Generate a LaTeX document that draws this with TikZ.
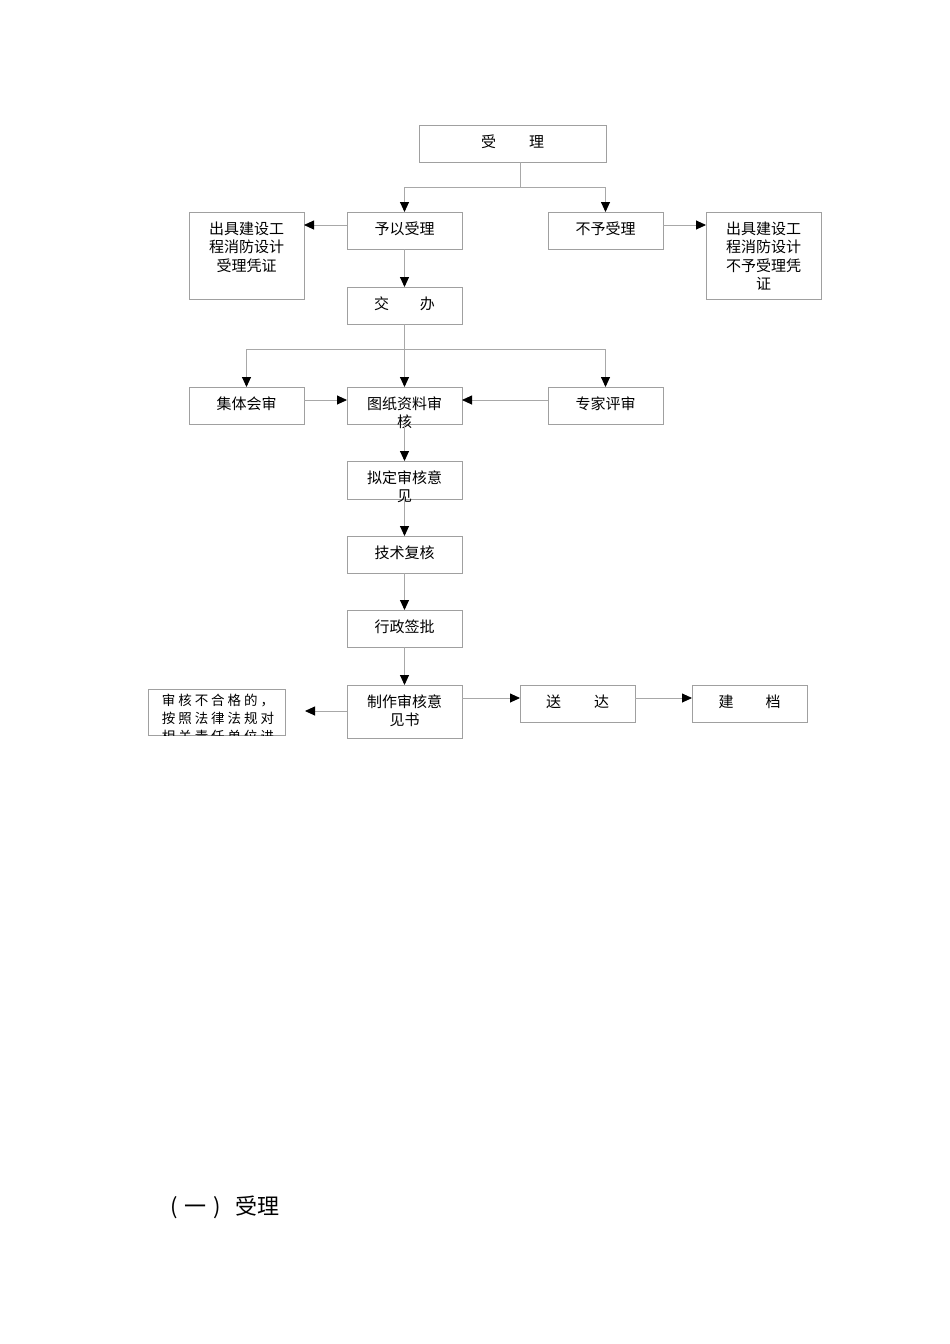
\documentclass[tikz,border=0pt]{standalone}
\usepackage{fontspec}
\setmainfont{Noto Sans CJK SC}
\newfontfamily\cjk{Noto Sans CJK SC}
\newfontfamily\cjkspaced[LetterSpace=22]{Noto Sans CJK SC}
\usetikzlibrary{arrows.meta}
\definecolor{linegray}{HTML}{A8A8A8}
\definecolor{boxgray}{HTML}{A0A0A0}
\tikzset{
  box/.style={draw=boxgray, line width=0.9pt, minimum width=115pt, minimum height=37pt, inner sep=0pt, outer sep=0pt},
  txt/.style={anchor=north, inner sep=0pt, align=center, font=\cjk\fontsize{15}{18.5}\selectfont},
  conn/.style={draw=linegray, line width=0.9pt},
  arr/.style={conn, -{Triangle[length=10pt,width=9pt,fill=black,color=black]}}
}
\begin{document}
\begin{tikzpicture}[x=1pt,y=-1pt]
\useasboundingbox (0,0) rectangle (950,1344);
\fill[white] (0,0) rectangle (950,1344);

% boxes
\node[box, minimum width=187pt] (shouli) at (512.5,143.5) {};
\node[box] (yiyi) at (404.5,230.5) {};
\node[box] (buyu) at (605.5,230.5) {};
\node[box, minimum height=87pt] (lcert) at (246.5,255.5) {};
\node[box, minimum height=87pt] (rcert) at (763.5,255.5) {};
\node[box] (jiaoban) at (404.5,305.5) {};
\node[box] (jiti) at (246.5,405.5) {};
\node[box] (tuzhi) at (404.5,405.5) {};
\node[box] (zhuanjia) at (605.5,405.5) {};
\node[box, minimum height=38pt] (niding) at (404.5,480) {};
\node[box] (jishu) at (404.5,554.5) {};
\node[box] (xingzheng) at (404.5,628.5) {};
\node[box, minimum height=53pt] (zhizuo) at (404.5,711.5) {};
\node[box] (songda) at (577.5,703.5) {};
\node[box] (jiandang) at (749.5,703.5) {};
\node[box, minimum width=137pt, minimum height=46pt] (buhege) at (216.5,712) {};

% texts
\node[txt] at ([yshift=-9.5pt]shouli.north) {受\hspace{33pt}理};
\node[txt] at ([yshift=-9.5pt]yiyi.north) {予以受理};
\node[txt] at ([yshift=-9.5pt]buyu.north) {不予受理};
\node[txt] at ([yshift=-9.5pt]lcert.north) {出具建设工\\程消防设计\\受理凭证};
\node[txt] at ([yshift=-9.5pt]rcert.north) {出具建设工\\程消防设计\\不予受理凭\\证};
\node[txt] at ([yshift=-9.5pt]jiaoban.north) {交\hspace{31pt}办};
\node[txt] at ([yshift=-9.5pt]jiti.north) {集体会审};
\node[txt] at ([yshift=-9.5pt]tuzhi.north) {图纸资料审\\核};
\node[txt] at ([yshift=-9.5pt]zhuanjia.north) {专家评审};
\node[txt] at ([yshift=-9.5pt]niding.north) {拟定审核意\\见};
\node[txt] at ([yshift=-9.5pt]jishu.north) {技术复核};
\node[txt] at ([yshift=-9.5pt]xingzheng.north) {行政签批};
\node[txt] at ([yshift=-9.5pt]zhizuo.north) {制作审核意\\见书};
\node[txt] at ([yshift=-9.5pt]songda.north) {送\hspace{33pt}达};
\node[txt] at ([yshift=-9.5pt]jiandang.north) {建\hspace{32pt}档};
\begin{scope}
  \clip (buhege.north west) rectangle (buhege.south east);
  \node[txt, font=\cjkspaced\fontsize{13.5}{18}\selectfont] at ([xshift=1.5pt,yshift=-5pt]buhege.north) {审核不合格的，\\按照法律法规对\\相关责任单位进};
\end{scope}

% connectors
\coordinate (j1) at (520,187);
\draw[conn] (shouli.south -| j1) -- (j1);
\draw[arr] (j1) -| (yiyi.north);
\draw[arr] (j1) -| (buyu.north);
\coordinate (ya) at (0,225);
\draw[arr] (yiyi.west |- ya) -- (lcert.east |- ya);
\draw[arr] (buyu.east |- ya) -- (rcert.west |- ya);
\draw[arr] (yiyi.south) -- (jiaoban.north);
\draw[arr] (jiaoban.south) -- (tuzhi.north);
\coordinate (j2) at (404.5,349);
\draw[arr] (j2) -| (jiti.north);
\draw[arr] (j2) -| (zhuanjia.north);
\coordinate (yb) at (0,400);
\draw[arr] (jiti.east |- yb) -- (tuzhi.west |- yb);
\draw[arr] (zhuanjia.west |- yb) -- (tuzhi.east |- yb);
\draw[arr] (tuzhi.south) -- (niding.north);
\draw[arr] (niding.south) -- (jishu.north);
\draw[arr] (jishu.south) -- (xingzheng.north);
\draw[arr] (xingzheng.south) -- (zhizuo.north);
\coordinate (yc) at (0,698);
\draw[arr] (zhizuo.east |- yc) -- (songda.west |- yc);
\draw[arr] (songda.east |- yc) -- (jiandang.west |- yc);
\coordinate (lend) at (305,711);
\draw[arr] (zhizuo.west |- lend) -- (lend);

% heading
\node[anchor=west, inner sep=0pt, font=\cjk\fontsize{22}{26}\selectfont] (head) at (170,1207) {(\hspace{7pt}一\hspace{7pt})\hspace{14pt}受理};
\end{tikzpicture}
\end{document}
